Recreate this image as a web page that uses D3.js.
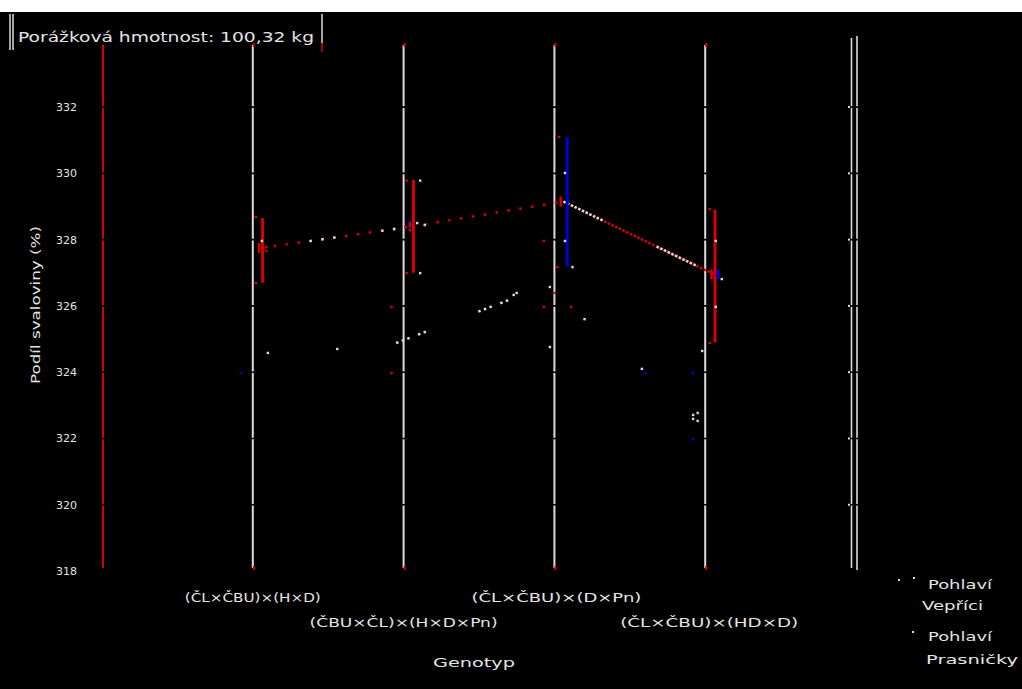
<!DOCTYPE html>
<html>
<head>
<meta charset="utf-8">
<script src="https://cdn.jsdelivr.net/npm/d3@7"></script>
<style>
  body { margin: 0; background: #fff; }
  svg { display: block; }
  text { font-family: "DejaVu Sans", sans-serif; fill: #e4e4e4; }
</style>
</head>
<body>
<div id="viz"></div>
<script>
// genotypes (x categories) and axis ticks
var genotypes = ['(ČL×ČBU)×(H×D)', '(ČBU×ČL)×(H×D×Pn)', '(ČL×ČBU)×(D×Pn)', '(ČL×ČBU)×(HD×D)'];
var yTicks = [318, 320, 322, 324, 326, 328, 330, 332];

// means and error bars per genotype
var meanVeprici = [327.75, 328.4, 329.15, 326.95];
var lowVeprici = [326.7, 327.0, null, 324.9];
var highVeprici = [328.65, 329.8, null, 328.9];
var lowPrasnicky = [null, null, 327.2, 326.8];
var highPrasnicky = [null, null, 331.1, 327.1];

// second (white) mean trace
var traceX = [1.95, 2.94];
var traceY = [324.88, 326.6];

// single observations, x in genotype units
var redX = [1.02, 1.02, 1.09, 1.09, 1.92, 1.92, 2.02, 2.93, 3.03, 3.02, 3.0, 2.93, 3.11, 4.03, 4.03, 2.02];
var redY = [328.68, 326.69, 327.78, 327.66, 325.97, 323.97, 326.99, 327.96, 331.1, 327.17, 326.39, 325.97, 325.97, 328.92, 324.88, 329.78];
var whiteX = [1.06, 1.1, 1.56, 2.11, 2.09, 2.14, 2.11, 3.07, 3.07, 3.12, 2.97, 2.73, 2.75, 3.2, 2.97, 3.58, 3.92, 3.95, 3.92, 3.95, 3.98, 4.07, 4.07, 4.11];
var whiteY = [327.96, 324.58, 324.7, 326.99, 328.5, 328.44, 329.78, 330.01, 327.96, 327.17, 326.57, 326.33, 326.39, 325.6, 324.76, 324.1, 322.71, 322.77, 322.59, 322.53, 324.64, 327.96, 325.97, 326.81];
var blueX = [0.92, 3.6, 3.92, 3.92, 2.04, 2.04];
var blueY = [323.97, 323.97, 323.97, 321.98, 328.55, 328.35];

var legendLabels = [['Pohlaví', 'Vepříci'], ['Pohlaví', 'Prasničky']];

var w = 1022, h = 689;
var RED = '#d80000', WHITE = '#dcdcdc', BLUE = '#0000d8';

var svg = d3.select('#viz').append('svg')
  .attr('width', w).attr('height', h);

svg.append('rect').attr('x', 0).attr('y', 12).attr('width', w).attr('height', h - 12).attr('fill', '#000');

var x = d3.scaleLinear().domain([0, 5]).range([102, 856]);
var y = d3.scaleLinear().domain([318, 334]).range([571, 40.8]);
var yTop = 45, yBottom = 568;

// title box
svg.append('line').attr('x1', 10).attr('x2', 10).attr('y1', 14).attr('y2', 50).attr('stroke', WHITE).attr('stroke-width', 1.5);
svg.append('line').attr('x1', 13).attr('x2', 13).attr('y1', 14).attr('y2', 50).attr('stroke', WHITE).attr('stroke-width', 1.5);
svg.append('line').attr('x1', 322).attr('x2', 322).attr('y1', 14).attr('y2', 43).attr('stroke', WHITE).attr('stroke-width', 1.5);
svg.append('line').attr('x1', 322).attr('x2', 322).attr('y1', 43).attr('y2', 52).attr('stroke', RED).attr('stroke-width', 1.5);
svg.append('text').attr('x', 18).attr('y', 42)
  .style('font-size', '14px')
  .attr('textLength', 296).attr('lengthAdjust', 'spacingAndGlyphs')
  .text('Porážková hmotnost: 100,32 kg');

// left axis (red)
svg.append('line').attr('x1', x(0) + 1).attr('x2', x(0) + 1).attr('y1', yTop).attr('y2', yBottom)
  .attr('stroke', RED).attr('stroke-width', 2);

// genotype lines
svg.selectAll('.gline').data(genotypes).enter().append('line')
  .attr('class', 'gline')
  .attr('x1', (d, i) => x(i + 1)).attr('x2', (d, i) => x(i + 1))
  .attr('y1', yTop).attr('y2', yBottom)
  .attr('stroke', WHITE).attr('stroke-width', 2);
svg.selectAll('.gend').data(genotypes.concat(genotypes)).enter().append('rect')
  .attr('x', (d, i) => x(i % 4 + 1))
  .attr('y', (d, i) => i < 4 ? yTop - 2 : yBottom - 2)
  .attr('width', 2).attr('height', 4).attr('fill', RED);

// right double frame
[851.5, 857].forEach(function(px, k) {
  svg.append('line').attr('x1', px).attr('x2', px)
    .attr('y1', 38 - k * 2).attr('y2', yBottom + k * 2)
    .attr('stroke', WHITE).attr('stroke-width', 1.6);
});

// tick gaps across the vertical lines
svg.selectAll('.gap').data(yTicks.slice(1)).enter().append('line')
  .attr('x1', 98).attr('x2', 862)
  .attr('y1', d => y(d)).attr('y2', d => y(d))
  .attr('stroke', '#000').attr('stroke-width', 1.6);
svg.selectAll('.rtick').data(yTicks.slice(1)).enter().append('rect')
  .attr('x', 848).attr('y', d => y(d) - 1)
  .attr('width', 2).attr('height', 2).attr('fill', WHITE);

// y tick labels
svg.selectAll('.ylab').data(yTicks).enter().append('text')
  .attr('x', 77).attr('y', d => y(d) + 4)
  .attr('text-anchor', 'end')
  .style('font-size', '11px')
  .text(d => d);

svg.append('text')
  .attr('transform', 'translate(40,305) rotate(-90)')
  .attr('text-anchor', 'middle')
  .style('font-size', '12px')
  .attr('textLength', 158).attr('lengthAdjust', 'spacingAndGlyphs')
  .text('Podíl svaloviny (%)');

// genotype labels
var labW = [136, 188, 170, 178];
svg.selectAll('.xlab').data(genotypes).enter().append('text')
  .attr('x', (d, i) => x(i + 1) + [0, 0, 2, 4][i] - labW[i] / 2)
  .attr('y', (d, i) => i % 2 == 0 ? 602 : 627)
  .style('font-size', '12px')
  .attr('textLength', (d, i) => labW[i]).attr('lengthAdjust', 'spacingAndGlyphs')
  .text(d => d);

svg.append('text').attr('x', 433).attr('y', 667)
  .style('font-size', '12px')
  .attr('textLength', 82).attr('lengthAdjust', 'spacingAndGlyphs')
  .text('Genotyp');

// mean line (Vepříci), dotted
var segs = d3.pairs(meanVeprici.map((v, i) => [x(i + 1.06), y(v)]));
svg.selectAll('.mseg').data(segs).enter().append('line')
  .attr('x1', d => d[0][0]).attr('y1', d => d[0][1])
  .attr('x2', d => d[1][0]).attr('y2', d => d[1][1])
  .attr('stroke', RED).attr('stroke-width', 2.5)
  .attr('stroke-dasharray', (d, i) => i < 2 ? '2.5,9.5' : '2.5,1.6');
// white overlay dots on the mean line
svg.selectAll('.wseg').data([segs[0], segs[2]]).enter().append('line')
  .attr('x1', d => d[0][0]).attr('y1', d => d[0][1])
  .attr('x2', d => d[1][0]).attr('y2', d => d[1][1])
  .attr('stroke', WHITE).attr('stroke-width', 2.5)
  .attr('stroke-dasharray', (d, i) => i == 0 ? '0,48,2.5,9.5,2.5,9.5,2.5,46,2.5,9.5,2.5,50' : '2.5,1.6,2.5,1.6,2.5,1.6,2.5,1.6,2.5,1.6,2.5,1.6,2.5,1.6,2.5,1.6,2.5,1.6,2.5,1.6,2.5,60');

svg.append('path')
  .datum(traceX.map((v, i) => [x(v), y(traceY[i])]))
  .attr('d', d3.line())
  .attr('fill', 'none').attr('stroke', WHITE).attr('stroke-width', 2.5)
  .attr('stroke-dasharray', '2.5,3.5,2.5,3.5,2.5,9,2.5,3.5,2.5,56');

// error bars
function bars(lo, hi, off, col) {
  svg.selectAll(null).data(lo.map((v, i) => [i, v, hi[i]]).filter(d => d[1] != null)).enter().append('line')
    .attr('x1', d => x(d[0] + 1 + off)).attr('x2', d => x(d[0] + 1 + off))
    .attr('y1', d => y(d[2])).attr('y2', d => y(d[1]))
    .attr('stroke', col).attr('stroke-width', 3);
}
bars(lowVeprici, highVeprici, 0.065, RED);
bars(lowPrasnicky, highPrasnicky, 0.085, BLUE);

// mean markers
svg.selectAll('.mm').data(meanVeprici).enter().append('rect')
  .attr('x', (d, i) => x(i + 1.06) - 4).attr('y', d => y(d) - 5)
  .attr('width', 2.5).attr('height', 10).attr('fill', RED);

// observations
function pts(xs, ys, col) {
  svg.selectAll(null).data(xs.map((v, i) => [v, ys[i]])).enter().append('rect')
    .attr('x', d => x(d[0]) - 1.2).attr('y', d => y(d[1]) - 1.2)
    .attr('width', 2.4).attr('height', 2.4).attr('fill', col);
}
pts(redX, redY, RED);
pts(whiteX, whiteY, WHITE);
pts(blueX, blueY, BLUE);

// legend
var leg = svg.append('g');
[[898, 579], [913, 577], [912, 631]].forEach(function(p) {
  leg.append('rect').attr('x', p[0]).attr('y', p[1]).attr('width', 2).attr('height', 2).attr('fill', WHITE);
});
var legPos = [[928, 589, 64], [922, 610, 61], [928, 641, 64], [926, 664, 92]];
var legTexts = d3.merge(legendLabels);
leg.selectAll('text').data(legTexts).enter().append('text')
  .attr('x', (d, i) => legPos[i][0]).attr('y', (d, i) => legPos[i][1])
  .style('font-size', '12px')
  .attr('textLength', (d, i) => legPos[i][2]).attr('lengthAdjust', 'spacingAndGlyphs')
  .text(d => d);
</script>
</body>
</html>
